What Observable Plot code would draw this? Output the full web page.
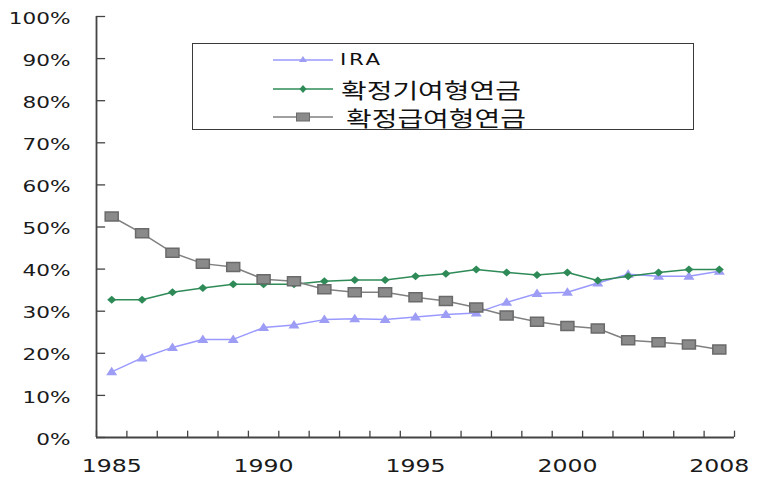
<!DOCTYPE html>
<html>
<head>
<meta charset="utf-8">
<script src="https://cdn.jsdelivr.net/npm/d3@7"></script>
<script src="https://cdn.jsdelivr.net/npm/@observablehq/plot@0.6"></script>
<style>
  html, body { margin: 0; padding: 0; background: #fff; }
  #wrap { position: relative; width: 759px; height: 478px; overflow: hidden; }
  #legend { position: absolute; left: 192px; top: 43px; width: 502px; height: 87px;
            border: 1.5px solid #3a3a3a; box-sizing: border-box; background: #fff; }
  .row { position: absolute; left: 0; height: 28px; width: 480px; }
  .row svg { position: absolute; left: 80px; top: 7px; }
  .row span { position: absolute; top: 0; height: 28px; line-height: 28px; white-space: nowrap;
              color: #111; transform: scaleX(1.33); transform-origin: left center; }
  .ko { font-family: "Noto Sans CJK KR", sans-serif; font-size: 21px; }
  .en { font-family: "DejaVu Sans", sans-serif; font-size: 16px; letter-spacing: 2px; }
</style>
</head>
<body>
<div id="wrap"></div>
<script>
// ---- data ----
const years = [1985, 1986, 1987, 1988, 1989, 1990, 1991, 1992, 1993, 1994, 1995,
               1996, 1997, 1998, 1999, 2000, 2001, 2002, 2003, 2004, 2005];
const ira = [15.6, 18.9, 21.4, 23.3, 23.3, 26.1, 26.7, 28.0, 28.2, 28.0, 28.6,
             29.2, 29.6, 32.1, 34.2, 34.5, 36.7, 38.8, 38.3, 38.3, 39.5];
const dc  = [32.7, 32.7, 34.5, 35.5, 36.4, 36.4, 36.4, 37.1, 37.4, 37.4, 38.3,
             38.9, 39.9, 39.2, 38.6, 39.2, 37.3, 38.3, 39.2, 39.9, 39.9];
const db  = [52.5, 48.5, 43.9, 41.3, 40.5, 37.6, 37.1, 35.2, 34.5, 34.5, 33.3,
             32.4, 30.9, 29.0, 27.5, 26.5, 25.9, 23.1, 22.6, 22.1, 20.9];
const seriesNames = ["IRA", "확정기여형연금", "확정급여형연금"];
const yTicks = [0, 10, 20, 30, 40, 50, 60, 70, 80, 90, 100];
const xTickValues = [1985, 1990, 1995, 2000, 2005];
const xTickLabels = ["1985", "1990", "1995", "2000", "2008"];

// ---- build ----
const rows = years.map((y, i) => ({year: y, ira: ira[i], dc: dc[i], db: db[i]}));
const xLo = years[0] - 0.5, xHi = years[years.length - 1] + 0.5;

const tri = {draw(c) { c.moveTo(0, -5); c.lineTo(5.5, 3.5); c.lineTo(-5.5, 3.5); c.closePath(); }};
const dia = {draw(c) { c.moveTo(0, -4); c.lineTo(4.5, 0); c.lineTo(0, 4); c.lineTo(-4.5, 0); c.closePath(); }};
const sq  = {draw(c) { c.rect(-6.5, -4.5, 13, 9); }};

const colIRA = "#9999ff", colDC = "#2e8b57", colDB = "#808080";
const axisCol = "#444";

const svg = Plot.plot({
  width: 759, height: 478,
  marginLeft: 96, marginRight: 25, marginTop: 16, marginBottom: 41,
  style: {fontFamily: "DejaVu Sans", background: "#fff", color: "#1a1a1a"},
  x: {type: "linear", domain: [xLo, xHi]},
  y: {domain: [0, 100]},
  marks: [
    Plot.axisY({ticks: yTicks, tickSize: 0, tickPadding: 26, tickFormat: d => d + "%",
                fontSize: 16, label: null, dy: 2, fill: "#1a1a1a"}),
    Plot.axisX({ticks: xTickValues, tickSize: 0, tickPadding: 22,
                tickFormat: d => xTickLabels[xTickValues.indexOf(d)],
                fontSize: 17.5, label: null, fill: "#1a1a1a"}),
    Plot.ruleY(yTicks, {x1: xLo, x2: xLo + 0.3, stroke: axisCol, strokeWidth: 1.3}),
    Plot.ruleX(d3.range(xLo, xHi + 0.01, 1), {y1: 0, y2: 1.5, stroke: axisCol, strokeWidth: 1.3}),
    Plot.ruleX([xLo], {y1: 0, y2: 100, stroke: axisCol, strokeWidth: 1.8}),
    Plot.ruleY([0], {x1: xLo, x2: xHi, stroke: axisCol, strokeWidth: 1.8}),
    Plot.line(rows, {x: "year", y: "ira", stroke: colIRA, strokeWidth: 1.5}),
    Plot.dot(rows, {x: "year", y: "ira", symbol: tri, r: 4, fill: "#9d9df5", stroke: "none"}),
    Plot.line(rows, {x: "year", y: "dc", stroke: colDC, strokeWidth: 1.5}),
    Plot.dot(rows, {x: "year", y: "dc", symbol: dia, r: 4, fill: colDC, stroke: "none"}),
    Plot.line(rows, {x: "year", y: "db", stroke: colDB, strokeWidth: 1.5}),
    Plot.dot(rows, {x: "year", y: "db", symbol: sq, r: 4, fill: "#8a8a8a", stroke: "#6a6a6a", strokeWidth: 1.5})
  ]
});

// widen tick labels horizontally like the reference
svg.querySelectorAll('g[aria-label="x-axis tick label"] text, g[aria-label="y-axis tick label"] text').forEach(t => {
  const tr = t.getAttribute("transform");
  if (tr) t.setAttribute("transform", tr + " scale(1.35,1)");
});

const wrap = document.getElementById("wrap");
wrap.appendChild(svg);

// ---- legend ----
const legend = document.createElement("div");
legend.id = "legend";
const swatches = [
  {color: colIRA, marker: '<path d="M30,3 L34,9 L26,9 Z" fill="#9d9df5"/>'},
  {color: colDC, marker: '<path d="M30,3 L33.5,7 L30,11 L26.5,7 Z" fill="' + colDC + '"/>'},
  {color: colDB, marker: '<rect x="23.5" y="3" width="13" height="8" fill="#8a8a8a" stroke="#6a6a6a" stroke-width="1"/>'}
];
const rowTops = [2, 31, 59];
const textLeft = [147, 148, 153];
seriesNames.forEach((name, i) => {
  const r = document.createElement("div");
  r.className = "row";
  r.style.top = rowTops[i] + "px";
  r.innerHTML =
    '<svg width="60" height="14"><line x1="0" y1="7" x2="60" y2="7" stroke="' + swatches[i].color +
    '" stroke-width="1.5"/>' + swatches[i].marker + '</svg>' +
    '<span class="' + (i === 0 ? "en" : "ko") + '" style="left:' + textLeft[i] + 'px">' + name + '</span>';
  legend.appendChild(r);
});
wrap.appendChild(legend);
</script>
</body>
</html>
